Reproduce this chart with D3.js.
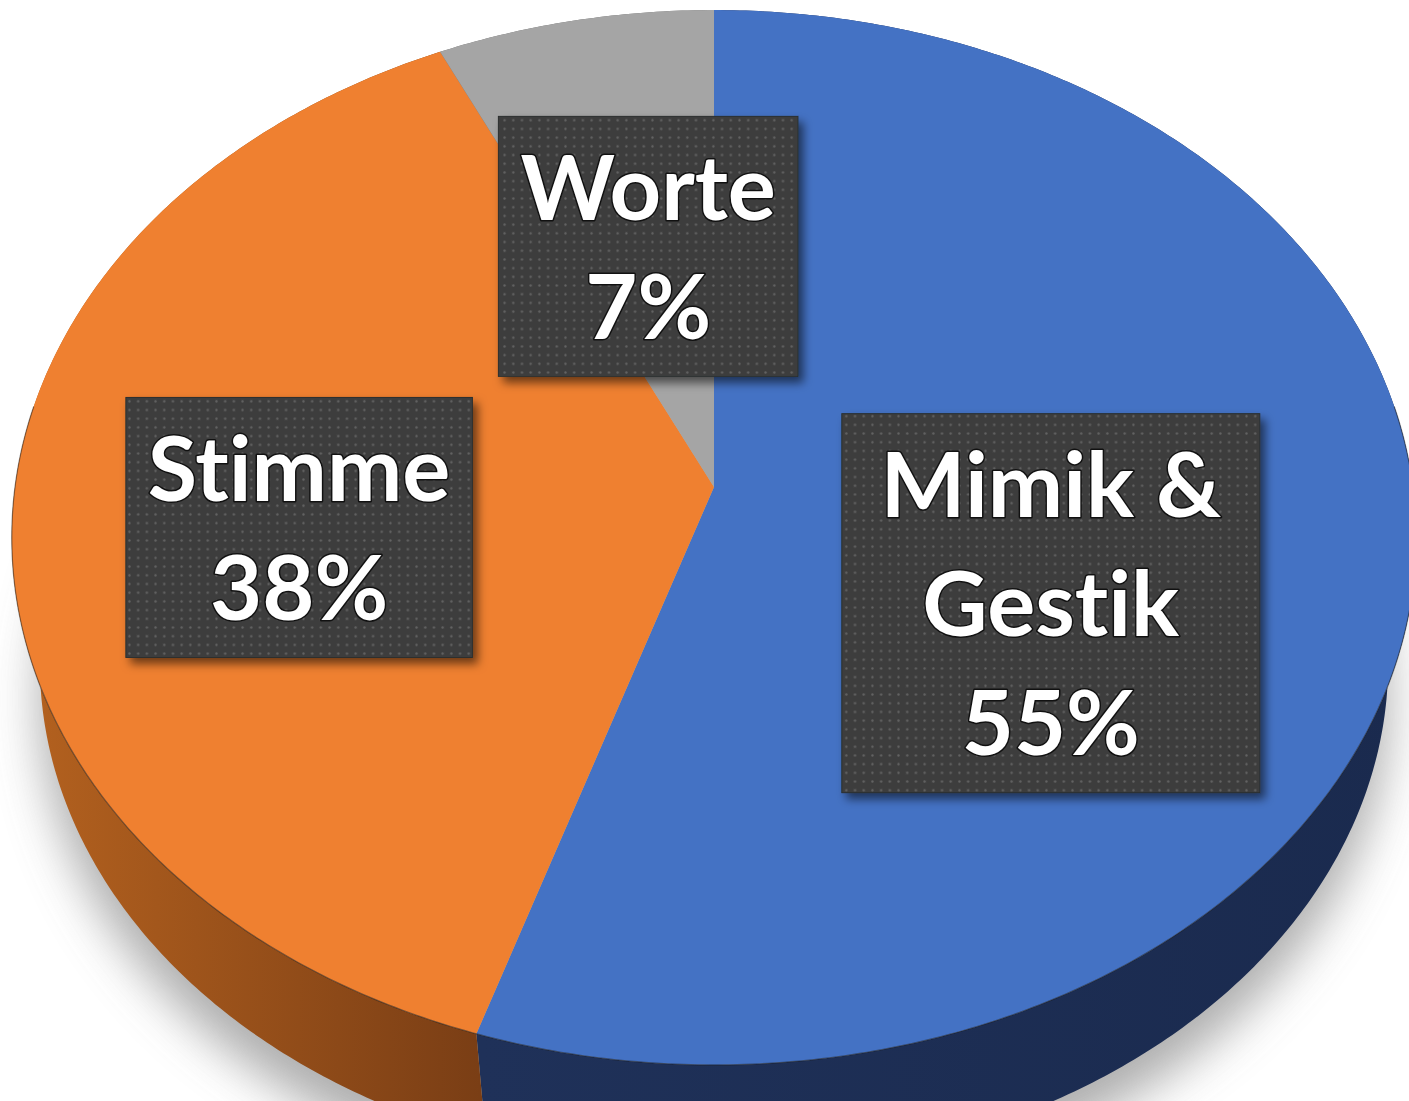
<html>
<head>
<meta charset="utf-8">
<script src="https://d3js.org/d3.v7.min.js"></script>
<style>
    html, body { margin: 0; padding: 0; background: #fff; overflow: hidden; }
    svg { display: block; }
</style>
</head>
<body>
<svg width="1409" height="1101"></svg>

<script>

    // data
    let categories = ['Mimik & Gestik', 'Stimme', 'Worte'];
    let values = [55, 38, 7];
    let labelLines = [['Mimik &', 'Gestik', '55%'], ['Stimme', '38%'], ['Worte', '7%']];

    let topColors = ['#4472c4', '#ef8030', '#a5a5a5'];
    let sideColors = [['#1f3159', '#1a2a4e'], ['#b5621f', '#7a3e15'], ['#6e6e6e', '#6e6e6e']];

    // label nudges (px) from the projected mid point of each slice
    let labelNudge = [[-11, 75], [-65, 24], [7, 3]];

    let svg = d3.select('svg'),
        width = +svg.attr('width'),
        height = +svg.attr('height');

    // perspective of the tilted disc
    let cx = 714, cy = 487, A = 699, B = 522.6, k = 0.0957;
    let depthNear = 105, shrink = 0.96;   // the bottom rim converges a bit

    function proj(angle, r) {
        let u = r * Math.sin(angle), v = -r * Math.cos(angle);
        let w = 1 - k * v;
        return [cx + A * u / w, cy + B * v / w];
    }

    let yNear = proj(Math.PI, 1)[1];
    let vy = yNear + depthNear / (1 - shrink);   // vanishing point of the vertical edges

    function projBottom(angle, r) {
        let p = proj(angle, r);
        return [cx + shrink * (p[0] - cx), vy + shrink * (p[1] - vy)];
    }

    function arcPts(a0, a1, f) {
        let n = Math.max(2, Math.ceil((a1 - a0) / 0.01));
        return d3.range(n + 1).map(i => f(a0 + (a1 - a0) * i / n, 1));
    }

    let pie = d3.pie().sort(null).value(d => d)(values);
    let line = d3.line();

    let defs = svg.append('defs');

    let blur = defs.append('filter').attr('id', 'shadowBlur')
        .attr('x', '-20%').attr('y', '-20%').attr('width', '140%').attr('height', '140%');
    blur.append('feGaussianBlur').attr('stdDeviation', 24);

    let boxShadow = defs.append('filter').attr('id', 'boxShadow')
        .attr('x', '-10%').attr('y', '-10%').attr('width', '130%').attr('height', '130%');
    boxShadow.append('feDropShadow')
        .attr('dx', 5).attr('dy', 6).attr('stdDeviation', 5)
        .attr('flood-color', '#000').attr('flood-opacity', 0.55);

    let pat = defs.append('pattern').attr('id', 'dots')
        .attr('patternUnits', 'userSpaceOnUse')
        .attr('width', 8.7).attr('height', 8.7);
    pat.append('rect').attr('width', 8.7).attr('height', 8.7).attr('fill', '#3e3e3e');
    pat.append('circle').attr('cx', 4.3).attr('cy', 4.3).attr('r', 1.15).attr('fill', '#636363');

    sideColors.forEach((c, i) => {
        let g = defs.append('linearGradient').attr('id', 'side' + i)
            .attr('gradientUnits', 'userSpaceOnUse')
            .attr('x1', i === 1 ? 15 : 480).attr('x2', i === 1 ? 480 : 1409)
            .attr('y1', 0).attr('y2', 0);
        g.append('stop').attr('offset', 0).attr('stop-color', c[0]);
        g.append('stop').attr('offset', 1).attr('stop-color', c[1]);
    });

    // soft shadow under the pie
    svg.append('path')
        .attr('d', line(arcPts(0, 2 * Math.PI, (a, r) => {
            let p = projBottom(a, r);
            return [p[0], p[1] + 35];
        })) + 'Z')
        .attr('fill', '#9a9a9a')
        .attr('opacity', 0.8)
        .attr('filter', 'url(#shadowBlur)');

    // sides
    svg.selectAll('.side')
        .data(pie)
      .enter()
        .append('path')
        .classed('side', true)
        .attr('d', d => {
            let top = arcPts(d.startAngle, d.endAngle, proj);
            let bot = arcPts(d.startAngle, d.endAngle, projBottom).reverse();
            return line(top.concat(bot)) + 'Z';
        })
        .attr('fill', (d, i) => 'url(#side' + i + ')');

    // top faces
    svg.selectAll('.slice')
        .data(pie)
      .enter()
        .append('path')
        .classed('slice', true)
        .attr('d', d => line([[cx, cy]].concat(arcPts(d.startAngle, d.endAngle, proj))) + 'Z')
        .attr('fill', (d, i) => topColors[i]);

    // rim line between face and side
    svg.append('path')
        .attr('d', line(arcPts(Math.PI * 0.45, Math.PI * 1.55, proj)))
        .attr('fill', 'none')
        .attr('stroke', '#1b1b1b')
        .attr('stroke-opacity', 0.5)
        .attr('stroke-width', 1.2);

    // labels
    let fontSize = 90, lineH = 119;
    let labels = svg.selectAll('.label')
        .data(pie)
      .enter()
        .append('g')
        .classed('label', true)
        .attr('transform', (d, i) => {
            let p = proj((d.startAngle + d.endAngle) / 2, 0.5);
            return 'translate(' + (p[0] + labelNudge[i][0]) + ',' + (p[1] + labelNudge[i][1]) + ')';
        });

    labels.each(function(d, i) {
        let g = d3.select(this);
        let lines = labelLines[i];
        let n = lines.length;
        let box = g.append('rect').attr('fill', 'url(#dots)').attr('filter', 'url(#boxShadow)')
            .attr('stroke', '#2a2f2f').attr('stroke-width', 1);
        let txt = g.append('text')
            .attr('text-anchor', 'middle')
            .style('font-family', 'Lato, "Open Sans", sans-serif')
            .style('font-weight', 'bold')
            .style('font-size', fontSize + 'px')
            .style('font-variant-ligatures', 'none')
            .style('font-feature-settings', '"liga" 0')
            .attr('fill', '#fff')
            .attr('stroke', '#111')
            .attr('stroke-width', 3)
            .attr('paint-order', 'stroke')
            .attr('stroke-linejoin', 'round');
        lines.forEach((s, j) => {
            txt.append('tspan')
                .attr('x', 0)
                .attr('y', (j - (n - 1) / 2) * lineH + 33)
                .text(s);
        });
        let bb = txt.node().getBBox();
        let w = Math.max(bb.width + 44, n > 2 ? 418 : 0);
        let h = n * lineH + 22;
        box.attr('x', -w / 2).attr('y', -h / 2).attr('width', w).attr('height', h);
    });

</script>
</body>
</html>
